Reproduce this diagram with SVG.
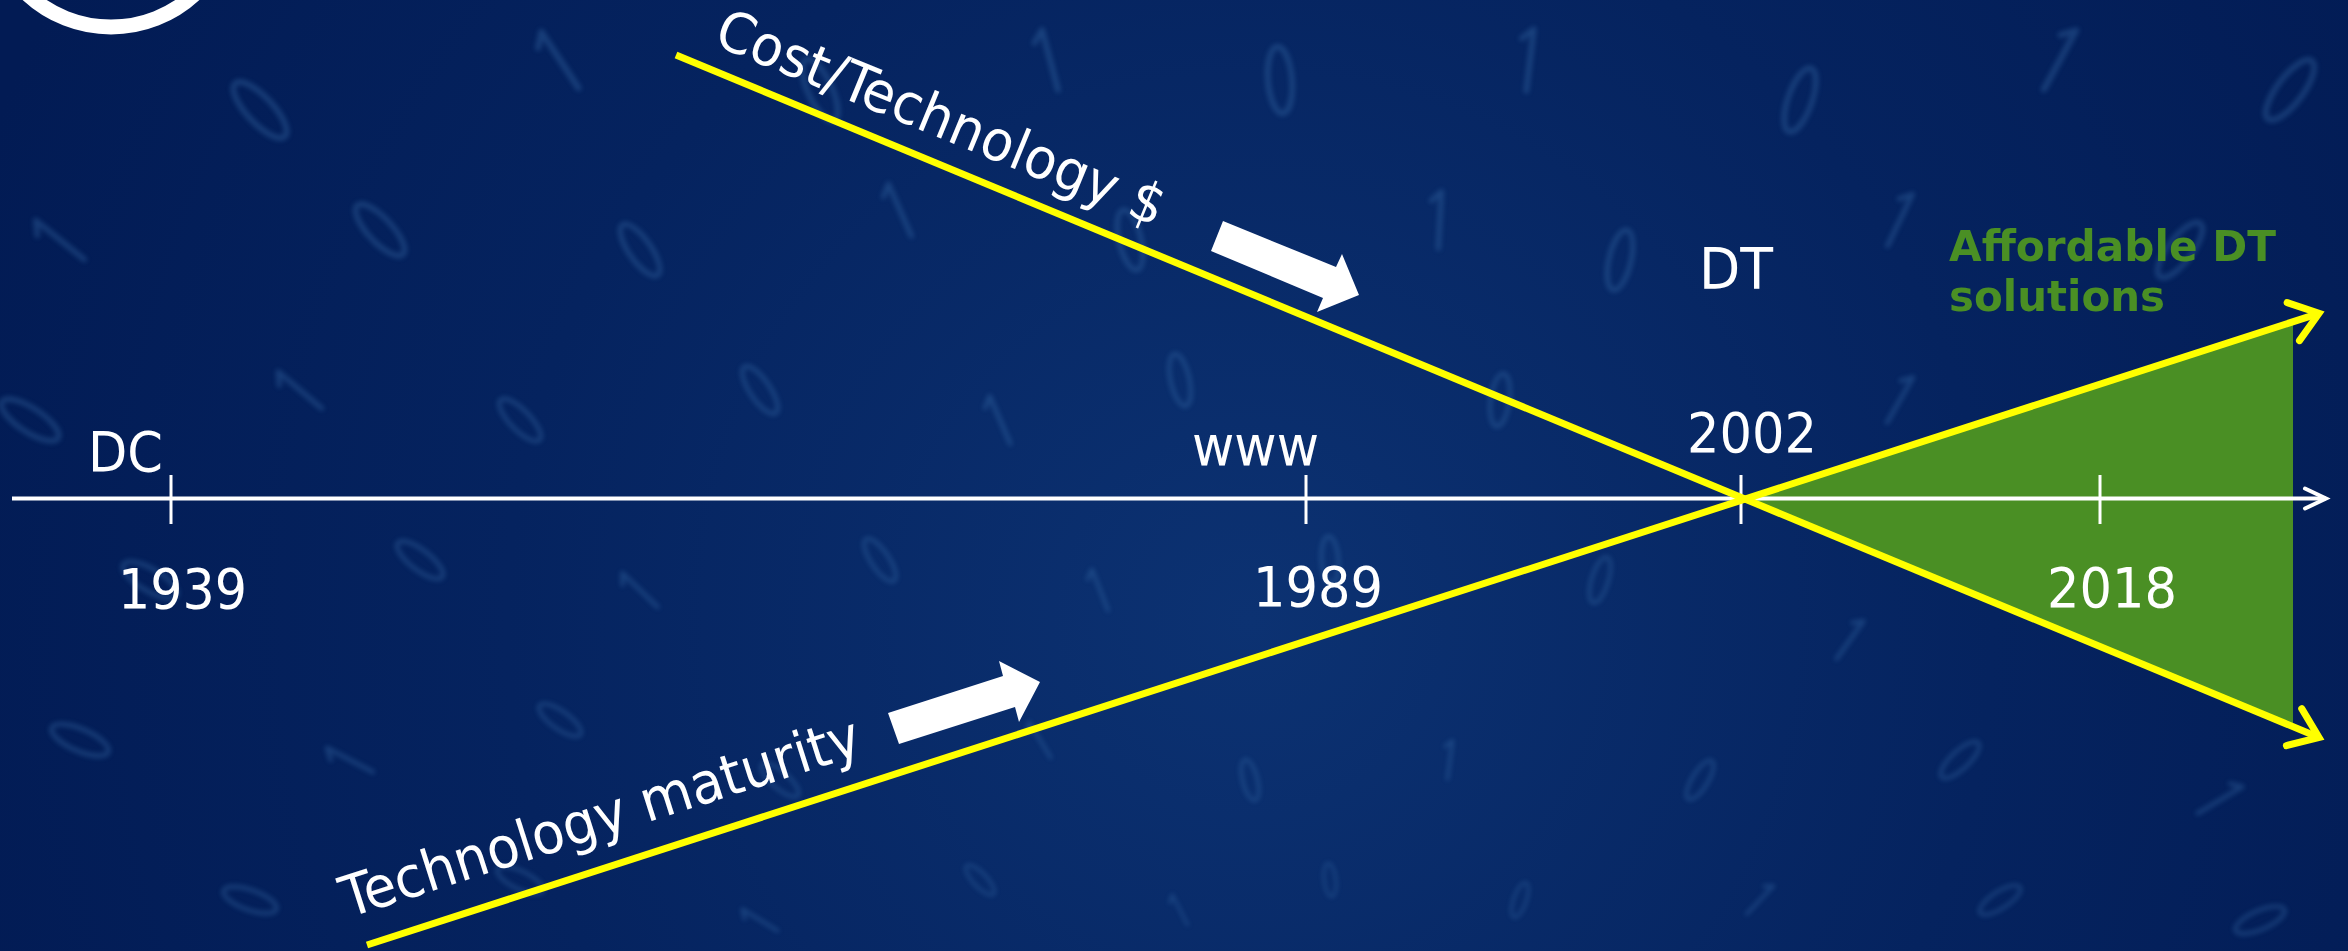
<svg xmlns="http://www.w3.org/2000/svg" xmlns:xlink="http://www.w3.org/1999/xlink" width="2348" height="951" viewBox="0 0 2348 951">
<style>
.lbl{font-family:"DejaVu Sans Condensed","DejaVu Sans","Liberation Sans",sans-serif;font-size:55px;fill:#ffffff;font-stretch:condensed}
.grn{font-family:"DejaVu Sans","Liberation Sans",sans-serif;font-size:42px;font-weight:bold;fill:#4A8F24}
.axis{stroke:#ffffff;stroke-width:4;fill:none}
.tick{stroke:#ffffff;stroke-width:3}
.trend{stroke:#FFFF00;stroke-width:7;fill:none}
.blk{fill:#ffffff}
.tx{fill:none;stroke:#4a86c2;stroke-width:4.5;stroke-linecap:round}
</style>
<defs>
<radialGradient id="bg" cx="1250" cy="620" r="1350" gradientUnits="userSpaceOnUse">
<stop offset="0" stop-color="#0c3272"/>
<stop offset="0.55" stop-color="#05235f"/>
<stop offset="1" stop-color="#021b54"/>
</radialGradient>
<filter id="soft" x="-5%" y="-5%" width="110%" height="110%"><feGaussianBlur stdDeviation="2.4"/></filter>
<ellipse id="d0" class="tx" rx="28" ry="10"/>
<path id="d1" class="tx" d="M-26,0H26M-26,0l9,9"/>
<marker id="yh" markerUnits="userSpaceOnUse" markerWidth="60" markerHeight="60" refX="0" refY="0" viewBox="-40 -30 60 60" orient="auto" overflow="visible">
<path d="M-27,-20L0,0L-27,20" fill="none" stroke="#FFFF00" stroke-width="7" stroke-linecap="round" stroke-linejoin="miter"/>
</marker>
<marker id="wh" markerUnits="userSpaceOnUse" markerWidth="40" markerHeight="40" refX="0" refY="0" viewBox="-30 -20 40 40" orient="auto" overflow="visible">
<path d="M-21,-10L0,0L-21,10" fill="none" stroke="#ffffff" stroke-width="4" stroke-linecap="round"/>
</marker>
</defs>
<rect width="2348" height="951" fill="url(#bg)"/>
<g id="texture" opacity="0.3" filter="url(#soft)">
<use href="#d0" transform="translate(260,110) rotate(46.7) scale(1.3)"/>
<use href="#d1" transform="translate(560,60) rotate(56.5) scale(1.3)"/>
<use href="#d0" transform="translate(820,90) rotate(65.2) scale(1.2)"/>
<use href="#d1" transform="translate(1050,60) rotate(75.1) scale(1.2)"/>
<use href="#d0" transform="translate(1280,80) rotate(85.3) scale(1.2)"/>
<use href="#d1" transform="translate(1530,60) rotate(96.9) scale(1.2)"/>
<use href="#d0" transform="translate(1800,100) rotate(109.3) scale(1.2)"/>
<use href="#d1" transform="translate(2060,60) rotate(118.7) scale(1.3)"/>
<use href="#d0" transform="translate(2290,90) rotate(127) scale(1.3)"/>
<use href="#d1" transform="translate(60,240) rotate(38.8) scale(1.2)"/>
<use href="#d0" transform="translate(380,230) rotate(46.9) scale(1.2)"/>
<use href="#d0" transform="translate(640,250) rotate(54.8) scale(1.1)"/>
<use href="#d1" transform="translate(900,210) rotate(66.2) scale(1.1)"/>
<use href="#d0" transform="translate(1130,240) rotate(76.7) scale(1.1)"/>
<use href="#d1" transform="translate(1440,220) rotate(93.2) scale(1.1)"/>
<use href="#d0" transform="translate(1620,260) rotate(103) scale(1.1)"/>
<use href="#d1" transform="translate(1900,220) rotate(115.7) scale(1.1)"/>
<use href="#d0" transform="translate(2180,250) rotate(127.3) scale(1.2)"/>
<use href="#d0" transform="translate(30,420) rotate(33.1) scale(1.2)"/>
<use href="#d1" transform="translate(300,390) rotate(40.1) scale(1.1)"/>
<use href="#d0" transform="translate(520,420) rotate(45.7) scale(1.0)"/>
<use href="#d0" transform="translate(760,390) rotate(55.7) scale(1.0)"/>
<use href="#d1" transform="translate(1000,420) rotate(66.6) scale(1.0)"/>
<use href="#d0" transform="translate(1180,380) rotate(77.7) scale(0.95)"/>
<use href="#d0" transform="translate(1500,400) rotate(97.6) scale(0.95)"/>
<use href="#d1" transform="translate(1900,400) rotate(120) scale(1.0)"/>
<use href="#d0" transform="translate(2250,420) rotate(134.7) scale(1.1)"/>
<use href="#d0" transform="translate(150,580) rotate(30.3) scale(1.1)"/>
<use href="#d0" transform="translate(420,560) rotate(37.6) scale(1.0)"/>
<use href="#d1" transform="translate(640,590) rotate(43.8) scale(0.95)"/>
<use href="#d0" transform="translate(880,560) rotate(55.9) scale(0.9)"/>
<use href="#d1" transform="translate(1100,590) rotate(68.5) scale(0.85)"/>
<use href="#d0" transform="translate(1330,560) rotate(86.1) scale(0.85)"/>
<use href="#d0" transform="translate(1600,580) rotate(107) scale(0.85)"/>
<use href="#d1" transform="translate(1850,640) rotate(125.5) scale(0.9)"/>
<use href="#d0" transform="translate(2050,560) rotate(132.2) scale(1.0)"/>
<use href="#d0" transform="translate(80,740) rotate(23.3) scale(1.1)"/>
<use href="#d1" transform="translate(350,760) rotate(27.7) scale(1.0)"/>
<use href="#d0" transform="translate(560,720) rotate(35.3) scale(0.9)"/>
<use href="#d0" transform="translate(780,780) rotate(40.9) scale(0.85)"/>
<use href="#d1" transform="translate(1040,740) rotate(58.7) scale(0.8)"/>
<use href="#d0" transform="translate(1250,780) rotate(76) scale(0.75)"/>
<use href="#d1" transform="translate(1450,760) rotate(97.4) scale(0.75)"/>
<use href="#d0" transform="translate(1700,780) rotate(121.6) scale(0.8)"/>
<use href="#d0" transform="translate(1960,760) rotate(137) scale(0.9)"/>
<use href="#d1" transform="translate(2220,800) rotate(149.2) scale(1.0)"/>
<use href="#d0" transform="translate(250,900) rotate(19.5) scale(1.0)"/>
<use href="#d0" transform="translate(520,880) rotate(26) scale(0.9)"/>
<use href="#d1" transform="translate(760,920) rotate(31.5) scale(0.8)"/>
<use href="#d0" transform="translate(980,880) rotate(46.4) scale(0.7)"/>
<use href="#d1" transform="translate(1180,910) rotate(62.9) scale(0.65)"/>
<use href="#d0" transform="translate(1330,880) rotate(83.2) scale(0.6)"/>
<use href="#d0" transform="translate(1520,900) rotate(109.3) scale(0.65)"/>
<use href="#d1" transform="translate(1760,900) rotate(133.5) scale(0.75)"/>
<use href="#d0" transform="translate(2000,900) rotate(147.2) scale(0.85)"/>
<use href="#d0" transform="translate(2260,920) rotate(156.6) scale(0.95)"/>
</g>
<g id="logo-ring">
<circle cx="111" cy="-96" r="123" fill="none" stroke="#ffffff" stroke-width="15"/>
</g>
<g id="affordable-zone">
<polygon points="1741,499 2293,322 2293,727" fill="#4A8F24"/>
</g>
<g id="connectors">
<line class="axis" x1="12" y1="498.5" x2="2326" y2="498.5" marker-end="url(#wh)"/>
<line class="tick" x1="171" y1="475" x2="171" y2="524"/>
<line class="tick" x1="1306" y1="475" x2="1306" y2="524"/>
<line class="tick" x1="1741" y1="475" x2="1741" y2="524"/>
<line class="tick" x1="2100" y1="475" x2="2100" y2="524"/>
<line class="trend" x1="676" y1="55" x2="2319" y2="737.5" marker-end="url(#yh)"/>
<line class="trend" x1="367" y1="945" x2="2319" y2="313.3" marker-end="url(#yh)"/>
<polygon class="blk" points="1223,221 1336,267 1342,254 1359,295 1317,312 1323,298 1211,251"/>
<polygon class="blk" points="888,713 1003,676 999,661 1040,682 1019,722 1015,707 899,744"/>
</g>
<g id="label-dc"><text class="lbl" x="88" y="471" textLength="75" lengthAdjust="spacingAndGlyphs">DC</text></g>
<g id="label-1939"><text class="lbl" x="118" y="608" textLength="129" lengthAdjust="spacingAndGlyphs">1939</text></g>
<g id="label-www"><text class="lbl" x="1192" y="465" textLength="127" lengthAdjust="spacingAndGlyphs">www</text></g>
<g id="label-1989"><text class="lbl" x="1253" y="606" textLength="130" lengthAdjust="spacingAndGlyphs">1989</text></g>
<g id="label-2002"><text class="lbl" x="1687" y="452" textLength="130" lengthAdjust="spacingAndGlyphs">2002</text></g>
<g id="label-2018"><text class="lbl" x="2047" y="607" textLength="130" lengthAdjust="spacingAndGlyphs">2018</text></g>
<g id="label-dt"><text class="lbl" x="1699" y="289" style="font-size:57px" textLength="74" lengthAdjust="spacingAndGlyphs">DT</text></g>
<g id="label-affordable">
<text class="grn" x="1949" y="261" textLength="327" lengthAdjust="spacingAndGlyphs">Affordable DT</text>
<text class="grn" x="1949" y="311" textLength="216" lengthAdjust="spacingAndGlyphs">solutions</text>
</g>
<g id="label-cost"><text class="lbl" transform="translate(712,44) rotate(22.4)" x="0" y="0" style="font-size:56px" textLength="480" lengthAdjust="spacingAndGlyphs">Cost/Technology $</text></g>
<g id="label-maturity"><text class="lbl" transform="translate(348,918) rotate(-17.7)" x="0" y="0" style="font-size:57px" textLength="542" lengthAdjust="spacingAndGlyphs">Technology maturity</text></g>
</svg>
